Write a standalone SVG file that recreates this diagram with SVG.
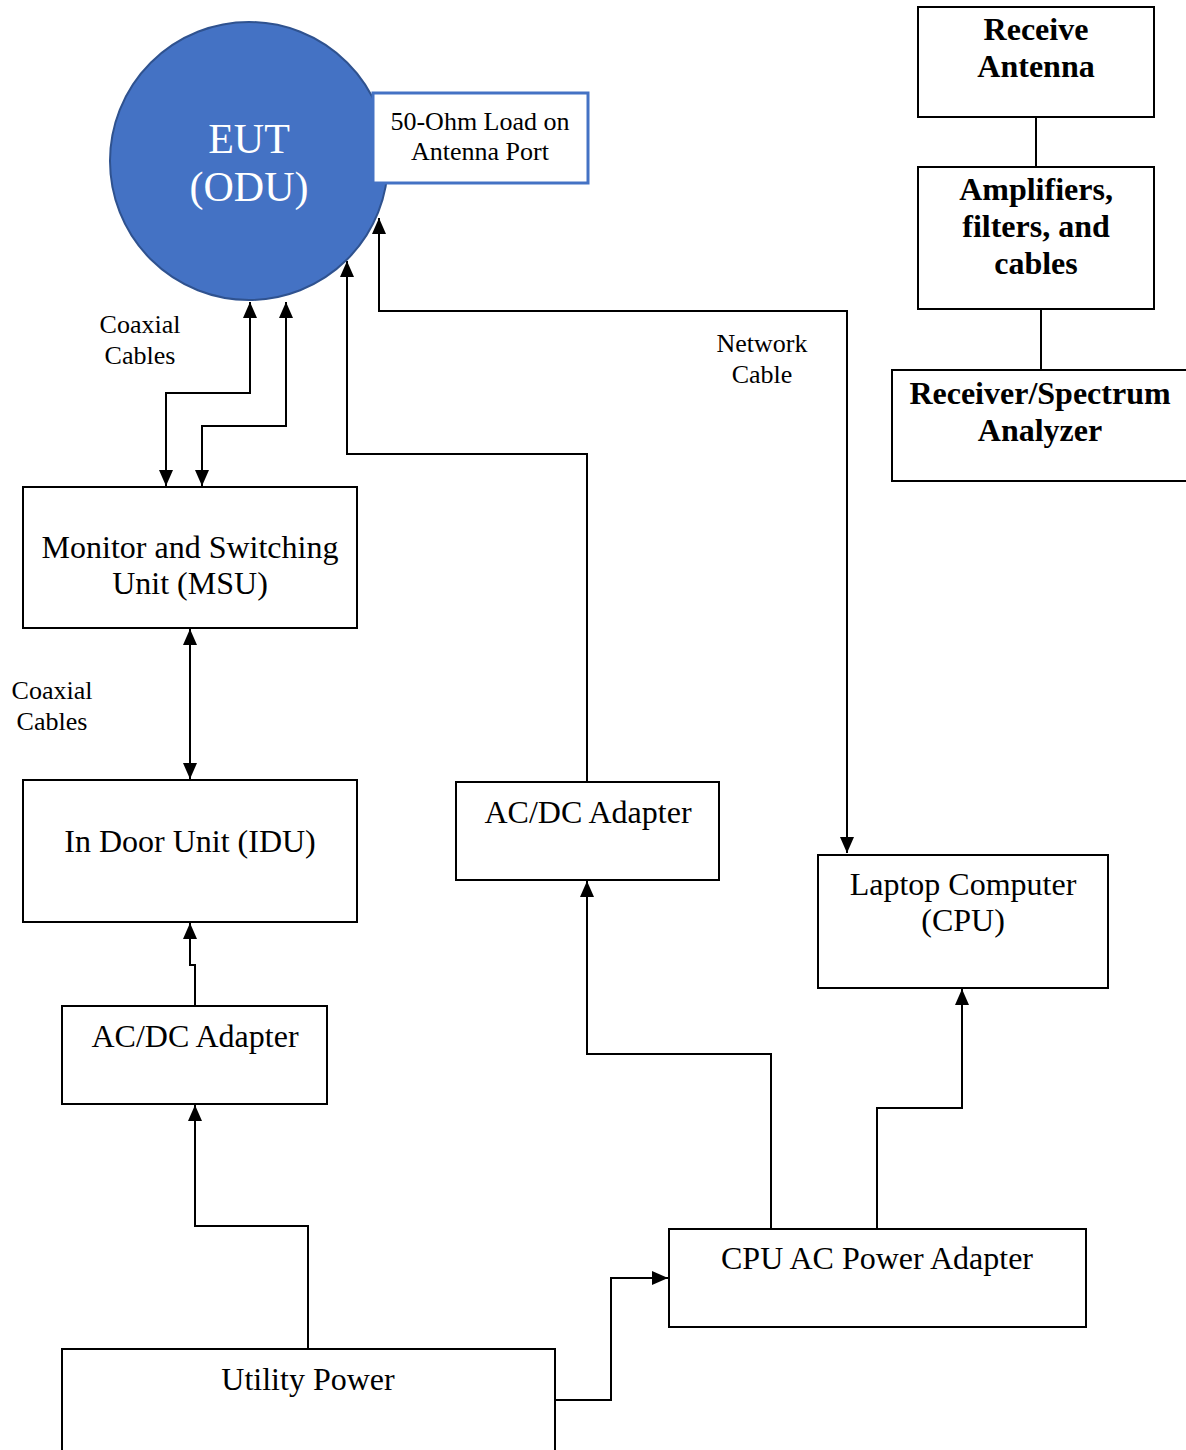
<svg xmlns="http://www.w3.org/2000/svg" width="1186" height="1450" viewBox="0 0 1186 1450">
<defs>
<marker id="ah" viewBox="0 0 16 14" refX="16" refY="7" markerWidth="16" markerHeight="14" orient="auto-start-reverse" markerUnits="userSpaceOnUse">
<path d="M0,0 L16,7 L0,14 Z" fill="#000"/>
</marker>
</defs>
<style>
.box{fill:#fff;stroke:#000;stroke-width:2}
.t{font-family:"Liberation Serif","Times New Roman",serif;fill:#000;text-anchor:middle}
.b{font-weight:bold;font-size:32px}
.n{font-size:32px}
.s{font-size:26px}
.c{fill:none;stroke:#000;stroke-width:2}
</style>
<rect width="1186" height="1450" fill="#fff"/>
<g id="connectors">
<path class="c" d="M166,486 V393 H250 V302" marker-start="url(#ah)" marker-end="url(#ah)"/>
<path class="c" d="M202,486 V426 H286 V302" marker-start="url(#ah)" marker-end="url(#ah)"/>
<path class="c" d="M190,629 V779" marker-start="url(#ah)" marker-end="url(#ah)"/>
<path class="c" d="M195,1006 V965 H190 V923" marker-end="url(#ah)"/>
<path class="c" d="M308,1349 V1226 H195 V1105" marker-end="url(#ah)"/>
<path class="c" d="M555,1400 H611 V1278 H668" marker-end="url(#ah)"/>
<path class="c" d="M771,1229 V1054 H587 V881" marker-end="url(#ah)"/>
<path class="c" d="M877,1229 V1108 H962 V989" marker-end="url(#ah)"/>
<path class="c" d="M587,782 V454 H347 V261" marker-end="url(#ah)"/>
<path class="c" d="M847,853 V311 H379 V218" marker-start="url(#ah)" marker-end="url(#ah)"/>
<path class="c" d="M1036,117 V167"/>
<path class="c" d="M1041,309 V370"/>
</g>
<g id="eut">
<circle cx="249" cy="161" r="139" fill="#4472C4" stroke="#2F528F" stroke-width="2"/>
<text class="t" x="249" y="153" font-size="42" style="fill:#fff">EUT</text>
<text class="t" x="249" y="201" font-size="42" style="fill:#fff">(ODU)</text>
</g>
<g id="load">
<rect x="373" y="93" width="215" height="90" fill="#fff" stroke="#4472C4" stroke-width="3"/>
<text class="t" x="480" y="130" font-size="26">50-Ohm Load on</text>
<text class="t" x="480" y="160" font-size="26">Antenna Port</text>
</g>
<g id="label-coax1">
<text class="t s" x="140" y="333">Coaxial</text>
<text class="t s" x="140" y="364">Cables</text>
</g>
<g id="label-coax2">
<text class="t s" x="52" y="699">Coaxial</text>
<text class="t s" x="52" y="730">Cables</text>
</g>
<g id="label-net">
<text class="t s" x="762" y="352">Network</text>
<text class="t s" x="762" y="383">Cable</text>
</g>
<g id="msu">
<rect class="box" x="23" y="487" width="334" height="141"/>
<text class="t n" x="190" y="558">Monitor and Switching</text>
<text class="t n" x="190" y="594">Unit (MSU)</text>
</g>
<g id="idu">
<rect class="box" x="23" y="780" width="334" height="142"/>
<text class="t n" x="190" y="852">In Door Unit (IDU)</text>
</g>
<g id="acdc-left">
<rect class="box" x="62" y="1006" width="265" height="98"/>
<text class="t n" x="195" y="1047">AC/DC Adapter</text>
</g>
<g id="utility">
<rect class="box" x="62" y="1349" width="493" height="110"/>
<text class="t n" x="308" y="1390">Utility Power</text>
</g>
<g id="acdc-mid">
<rect class="box" x="456" y="782" width="263" height="98"/>
<text class="t n" x="588" y="823">AC/DC Adapter</text>
</g>
<g id="laptop">
<rect class="box" x="818" y="855" width="290" height="133"/>
<text class="t n" x="963" y="895">Laptop Computer</text>
<text class="t n" x="963" y="931">(CPU)</text>
</g>
<g id="cpu-adapter">
<rect class="box" x="669" y="1229" width="417" height="98"/>
<text class="t n" x="877" y="1269">CPU AC Power Adapter</text>
</g>
<g id="rx-antenna">
<rect class="box" x="918" y="7" width="236" height="110"/>
<text class="t b" x="1036" y="40">Receive</text>
<text class="t b" x="1036" y="77">Antenna</text>
</g>
<g id="amps">
<rect class="box" x="918" y="167" width="236" height="142"/>
<text class="t b" x="1036" y="200">Amplifiers,</text>
<text class="t b" x="1036" y="237">filters, and</text>
<text class="t b" x="1036" y="274">cables</text>
</g>
<g id="receiver">
<rect class="box" x="892" y="370" width="300" height="111"/>
<text class="t b" x="1040" y="404">Receiver/Spectrum</text>
<text class="t b" x="1040" y="441">Analyzer</text>
</g>
</svg>
